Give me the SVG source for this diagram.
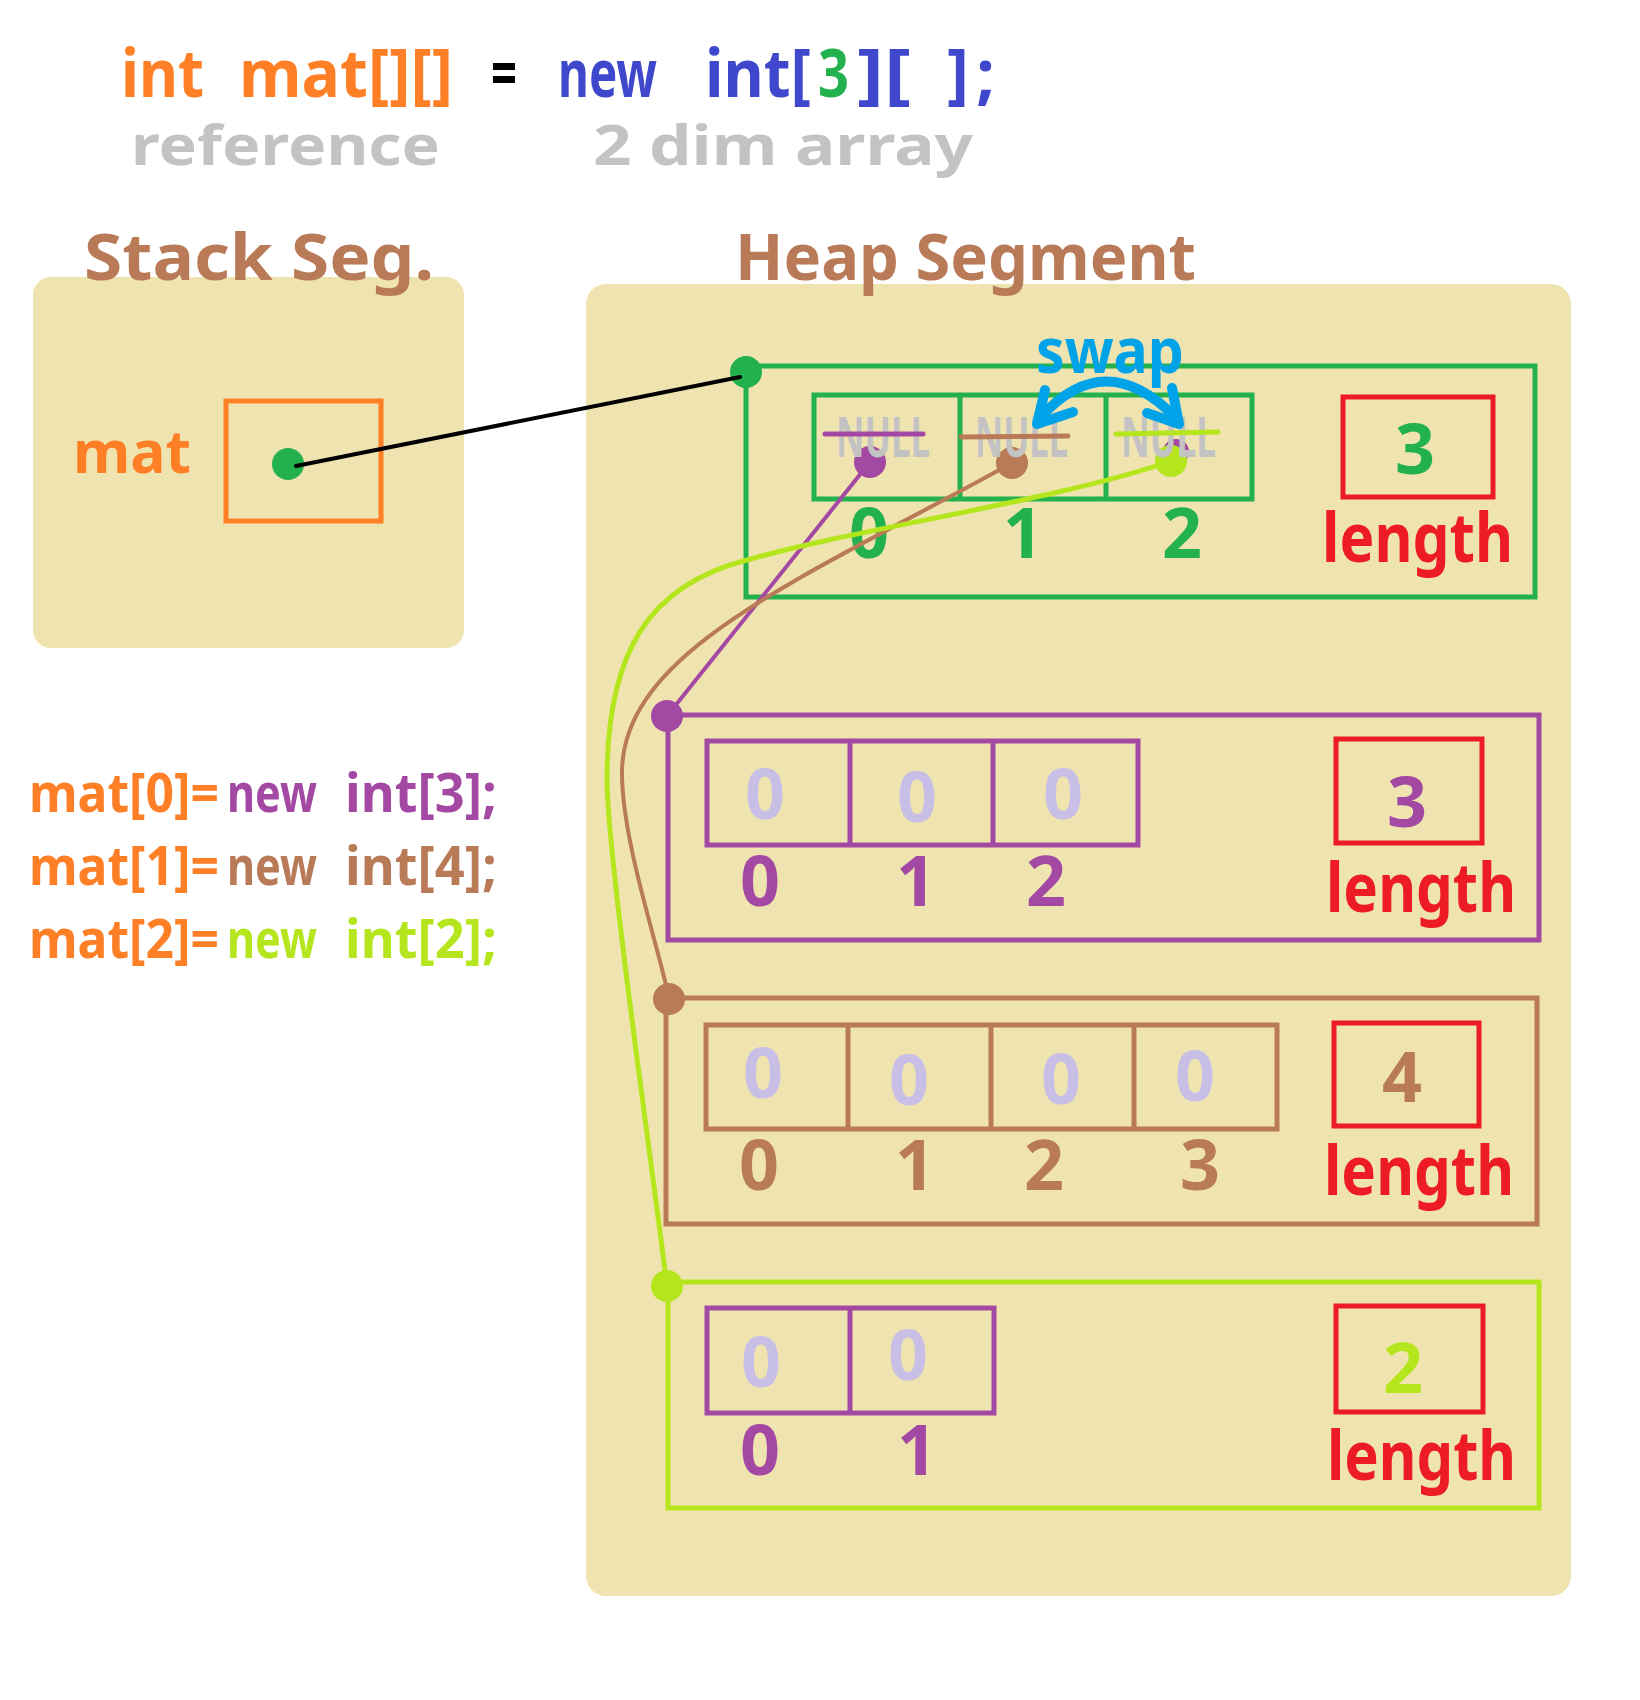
<svg xmlns="http://www.w3.org/2000/svg" width="1640" height="1700" viewBox="0 0 1640 1700">
<style>
  text { font-family: "Comic Sans MS", "Noto Sans", "DejaVu Sans", sans-serif; font-weight: bold; }
  .seg { fill: #EFE4B0; }
  .orange { fill: #FF7F27; }
  .blue { fill: #3F48CC; }
  .green { fill: #22B14C; }
  .gray { fill: #C3C3C3; }
  .brown { fill: #B97A57; }
  .purple { fill: #A349A4; }
  .lime { fill: #B5E61D; }
  .red { fill: #ED1C24; }
  .lav { fill: #C8BFE7; }
  .cyan { fill: #00A2E8; }
  .box { fill: none; stroke-width: 5; }
  .idx { font-size: 70px; text-anchor: middle; }
  .len { font-size: 68px; fill: #ED1C24; }
  .redbox { fill: none; stroke: #ED1C24; stroke-width: 5; }
  .null { font-size: 56px; fill: #C3C3C3; }
</style>

<rect width="1640" height="1700" fill="#FFFFFF"/>

<!-- Title -->
<g id="title">
  <text font-size="66" y="97">
    <tspan class="orange" x="121" textLength="83" lengthAdjust="spacingAndGlyphs">int</tspan>
    <tspan class="orange" x="239" textLength="214" lengthAdjust="spacingAndGlyphs">mat[][]</tspan>
    <tspan fill="#000000" x="491" textLength="26" lengthAdjust="spacingAndGlyphs">=</tspan>
    <tspan class="blue" x="558" textLength="99" lengthAdjust="spacingAndGlyphs">new</tspan>
    <tspan class="blue" x="705" textLength="106" lengthAdjust="spacingAndGlyphs">int[</tspan>
    <tspan class="green" x="818" textLength="31" lengthAdjust="spacingAndGlyphs">3</tspan>
    <tspan class="blue" x="857" textLength="54" lengthAdjust="spacingAndGlyphs">][</tspan>
    <tspan class="blue" x="947" textLength="22" lengthAdjust="spacingAndGlyphs">]</tspan>
    <tspan class="blue" x="976" textLength="19" lengthAdjust="spacingAndGlyphs">;</tspan>
  </text>
  <text font-size="56" y="165" class="gray">
    <tspan x="131" textLength="309" lengthAdjust="spacingAndGlyphs">reference</tspan>
    <tspan x="593" textLength="380" lengthAdjust="spacingAndGlyphs">2 dim array</tspan>
  </text>
</g>

<!-- Stack segment -->
<g id="stack">
  <rect class="seg" x="33" y="277" width="431" height="371" rx="18"/>
  <text class="brown" font-size="64" x="84" y="280" textLength="350" lengthAdjust="spacingAndGlyphs">Stack Seg.</text>
  <text class="orange" font-size="60" x="73" y="473" textLength="118" lengthAdjust="spacingAndGlyphs">mat</text>
  <rect class="box" stroke="#FF7F27" x="226" y="401" width="155" height="120" stroke-width="4"/>
</g>

<!-- Heap segment -->
<g id="heap">
  <rect class="seg" x="586" y="284" width="985" height="1312" rx="20"/>
  <text class="brown" font-size="64" x="735" y="280" textLength="461" lengthAdjust="spacingAndGlyphs">Heap Segment</text>
</g>

<!-- Code lines -->
<g id="code">
  <text font-size="54" y="812">
    <tspan class="orange" x="29" textLength="190" lengthAdjust="spacingAndGlyphs">mat[0]=</tspan>
    <tspan class="purple" x="227" textLength="90" lengthAdjust="spacingAndGlyphs">new</tspan>
    <tspan class="purple" x="345" textLength="152" lengthAdjust="spacingAndGlyphs">int[3];</tspan>
  </text>
  <text font-size="54" y="885">
    <tspan class="orange" x="29" textLength="190" lengthAdjust="spacingAndGlyphs">mat[1]=</tspan>
    <tspan class="brown" x="227" textLength="90" lengthAdjust="spacingAndGlyphs">new</tspan>
    <tspan class="brown" x="345" textLength="152" lengthAdjust="spacingAndGlyphs">int[4];</tspan>
  </text>
  <text font-size="54" y="958">
    <tspan class="orange" x="29" textLength="190" lengthAdjust="spacingAndGlyphs">mat[2]=</tspan>
    <tspan class="lime" x="227" textLength="90" lengthAdjust="spacingAndGlyphs">new</tspan>
    <tspan class="lime" x="345" textLength="152" lengthAdjust="spacingAndGlyphs">int[2];</tspan>
  </text>
</g>

<!-- Top level array (references) -->
<g id="array-mat">
  <rect class="box" stroke="#22B14C" x="746" y="366" width="789" height="231"/>
  <rect class="box" stroke="#22B14C" x="814" y="395" width="438" height="104"/>
  <line x1="960" y1="395" x2="960" y2="499" stroke="#22B14C" stroke-width="5"/>
  <line x1="1106" y1="395" x2="1106" y2="499" stroke="#22B14C" stroke-width="5"/>
  <text class="idx green" x="869" y="558">0</text>
  <text class="idx green" x="1023" y="558">1</text>
  <text class="idx green" x="1182" y="558">2</text>
  <rect class="redbox" x="1343" y="397" width="150" height="100"/>
  <text class="idx green" x="1415" y="474">3</text>
  <text class="len" x="1322" y="562" textLength="191" lengthAdjust="spacingAndGlyphs">length</text>
</g>

<!-- mat[0] -->
<g id="array-0">
  <rect class="box" stroke="#A349A4" x="668" y="715" width="871" height="225"/>
  <rect class="box" stroke="#A349A4" x="707" y="741" width="431" height="104"/>
  <line x1="850" y1="741" x2="850" y2="845" stroke="#A349A4" stroke-width="5"/>
  <line x1="993" y1="741" x2="993" y2="845" stroke="#A349A4" stroke-width="5"/>
  <text class="idx lav" x="765" y="819">0</text>
  <text class="idx lav" x="917" y="822">0</text>
  <text class="idx lav" x="1063" y="819">0</text>
  <text class="idx purple" x="760" y="906">0</text>
  <text class="idx purple" x="916" y="906">1</text>
  <text class="idx purple" x="1046" y="906">2</text>
  <rect class="redbox" x="1336" y="739" width="146" height="104"/>
  <text class="idx purple" x="1407" y="827">3</text>
  <text class="len" x="1326" y="912" textLength="190" lengthAdjust="spacingAndGlyphs">length</text>
</g>

<!-- mat[1] -->
<g id="array-1">
  <rect class="box" stroke="#B97A57" x="666" y="998" width="871" height="226"/>
  <rect class="box" stroke="#B97A57" x="706" y="1025" width="571" height="104"/>
  <line x1="848" y1="1025" x2="848" y2="1129" stroke="#B97A57" stroke-width="5"/>
  <line x1="991" y1="1025" x2="991" y2="1129" stroke="#B97A57" stroke-width="5"/>
  <line x1="1134" y1="1025" x2="1134" y2="1129" stroke="#B97A57" stroke-width="5"/>
  <text class="idx lav" x="763" y="1098">0</text>
  <text class="idx lav" x="909" y="1105">0</text>
  <text class="idx lav" x="1061" y="1104">0</text>
  <text class="idx lav" x="1195" y="1101">0</text>
  <text class="idx brown" x="759" y="1190">0</text>
  <text class="idx brown" x="915" y="1190">1</text>
  <text class="idx brown" x="1044" y="1190">2</text>
  <text class="idx brown" x="1200" y="1190">3</text>
  <rect class="redbox" x="1334" y="1023" width="145" height="103"/>
  <text class="idx brown" x="1402" y="1102">4</text>
  <text class="len" x="1324" y="1195" textLength="190" lengthAdjust="spacingAndGlyphs">length</text>
</g>

<!-- mat[2] -->
<g id="array-2">
  <rect class="box" stroke="#B5E61D" x="668" y="1282" width="871" height="226"/>
  <rect class="box" stroke="#A349A4" x="707" y="1308" width="287" height="105"/>
  <line x1="850" y1="1308" x2="850" y2="1413" stroke="#A349A4" stroke-width="5"/>
  <text class="idx lav" x="761" y="1387">0</text>
  <text class="idx lav" x="908" y="1380">0</text>
  <text class="idx purple" x="760" y="1475">0</text>
  <text class="idx purple" x="917" y="1475">1</text>
  <rect class="redbox" x="1336" y="1306" width="147" height="106"/>
  <text class="idx lime" x="1403" y="1393">2</text>
  <text class="len" x="1327" y="1480" textLength="189" lengthAdjust="spacingAndGlyphs">length</text>
</g>

<!-- Connectors -->
<g id="connectors" fill="none" stroke-linecap="round">
  <line x1="870" y1="462" x2="667" y2="716" stroke="#A349A4" stroke-width="4"/>
  <path d="M1012,463 C800,580 625,650 622,770 C621,840 660,950 669,999" stroke="#B97A57" stroke-width="4"/>
  <path d="M1171,461 C1060,500 850,530 747,560 C650,585 607,650 607,780 C608,860 650,1150 667,1286" stroke="#B5E61D" stroke-width="5"/>
  <g stroke="none">
    <circle cx="288" cy="464" r="16" fill="#22B14C"/>
    <circle cx="746" cy="372" r="16" fill="#22B14C"/>
    <circle cx="870" cy="462" r="16" fill="#A349A4"/>
    <circle cx="1012" cy="463" r="16" fill="#B97A57"/>
    <circle cx="1176" cy="452" r="13" fill="#A349A4"/>
    <circle cx="1171" cy="461" r="16" fill="#B5E61D"/>
    <circle cx="667" cy="716" r="16" fill="#A349A4"/>
    <circle cx="669" cy="999" r="16" fill="#B97A57"/>
    <circle cx="667" cy="1286" r="16" fill="#B5E61D"/>
  </g>
  <line x1="296" y1="466" x2="740" y2="377" stroke="#000000" stroke-width="4"/>
</g>

<!-- NULL markers -->
<g id="null-cells">
  <text class="null" x="836" y="457" textLength="94" lengthAdjust="spacingAndGlyphs">NULL</text>
  <text class="null" x="975" y="457" textLength="93" lengthAdjust="spacingAndGlyphs">NULL</text>
  <text class="null" x="1121" y="457" textLength="95" lengthAdjust="spacingAndGlyphs">NULL</text>
  <line x1="825" y1="434" x2="923" y2="434" stroke="#A349A4" stroke-width="5" stroke-linecap="round"/>
  <line x1="961" y1="437" x2="1068" y2="436" stroke="#B97A57" stroke-width="5" stroke-linecap="round"/>
  <line x1="1116" y1="434" x2="1218" y2="432" stroke="#B5E61D" stroke-width="5" stroke-linecap="round"/>
</g>

<!-- swap arrow -->
<g id="swap">
  <text class="cyan" font-size="62" x="1036" y="373" textLength="148" lengthAdjust="spacingAndGlyphs">swap</text>
  <g fill="none" stroke="#00A2E8" stroke-width="10" stroke-linecap="round" stroke-linejoin="round">
    <path d="M1040,418 Q1105,345 1176,418"/>
    <polyline points="1045,390 1037,424 1073,412"/>
    <polyline points="1172,388 1179,424 1147,413"/>
  </g>
</g>
</svg>
